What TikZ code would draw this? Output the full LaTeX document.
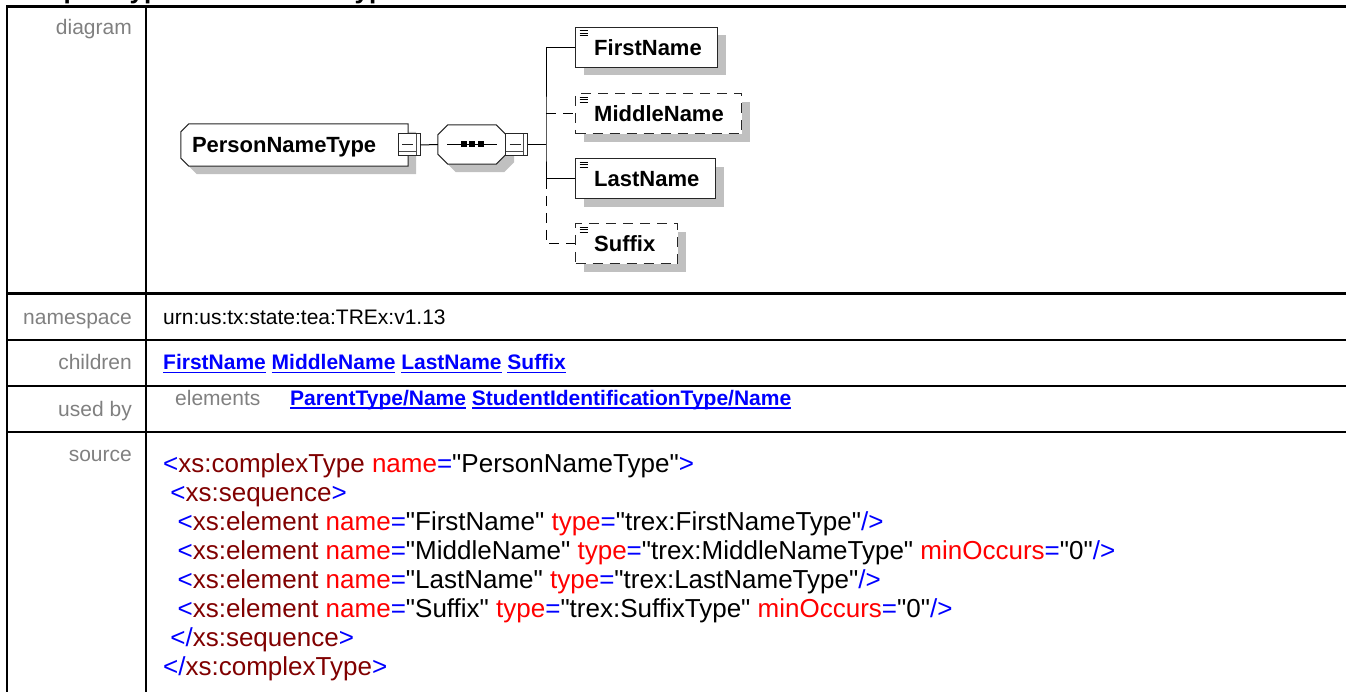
\documentclass[tikz,border=0pt]{standalone}
\usepackage{fontspec}
\setmainfont{Liberation Sans}[Ligatures=TeXOff]
\usetikzlibrary{shadows,backgrounds,positioning}

\definecolor{xmlblue}{RGB}{0,0,255}
\definecolor{xmltag}{RGB}{128,0,0}
\definecolor{xmlattr}{RGB}{255,0,0}
\definecolor{lblgray}{RGB}{128,128,128}
\definecolor{shadowgray}{RGB}{192,192,192}

\newcommand{\xsmark}[1]{\textcolor{xmlblue}{#1}}
\newcommand{\xstag}[1]{\textcolor{xmltag}{#1}}
\newcommand{\xsattr}[1]{\textcolor{xmlattr}{#1}}
\newcommand{\srcind}{\hspace*{7.2pt}}
\newcommand{\doclink}[1]{{\color{xmlblue}\bfseries\setbox0=\hbox{#1}\rlap{\rule[-3.5pt]{\wd0}{1.8pt}}\box0}}

\begin{document}
\begin{tikzpicture}[x=1pt, y=-1pt,
    grid/.style={line width=2.2pt},
    rowlbl/.style={anchor=base east, inner sep=0pt, text=lblgray, font=\fontsize{21}{25}\selectfont},
    cell/.style={anchor=base west, inner sep=0pt, font=\fontsize{21}{25}\selectfont},
    srcline/.style={anchor=base west, inner sep=0pt, font=\fontsize{26}{30}\selectfont},
    boxshadow/.style={drop shadow={shadow xshift=8pt, shadow yshift=-8pt, fill=shadowgray, opacity=1}},
    outline/.style={draw=black!85, fill=white, line width=1pt, boxshadow},
    typebox/.style={rectangle, minimum width=227pt, minimum height=42pt, inner xsep=11pt, text width=205pt, align=left, text height=16pt, text depth=0pt, font=\bfseries\fontsize{22}{26}\selectfont},
    seqbox/.style={rectangle, minimum width=68pt, minimum height=39pt, inner sep=0pt},
    expander/.style={rectangle, draw=black!85, fill=white, line width=1pt, minimum width=22pt, minimum height=22pt, inner sep=0pt,
        path picture={\draw[line width=1pt, black!70] ([xshift=-4pt]path picture bounding box.north east) -- ([xshift=-4pt]path picture bounding box.south east)
                ([yshift=4pt]path picture bounding box.south west) -- ([shift={(-4pt,4pt)}]path picture bounding box.south east);
            \draw[line width=1pt] ([xshift=4pt]path picture bounding box.west) -- ([xshift=-7pt]path picture bounding box.east);}},
    elem/.style={rectangle, draw=black!85, fill=white, line width=1pt, boxshadow, anchor=north west, minimum width=#1, minimum height=40pt, inner sep=0pt,
        path picture={\draw[solid, line width=0.7pt, black]
            ([shift={(4pt,-3pt)}]path picture bounding box.north west) -- ++(8pt,0pt)
            ([shift={(4pt,-5.5pt)}]path picture bounding box.north west) -- ++(8pt,0pt)
            ([shift={(4pt,-8pt)}]path picture bounding box.north west) -- ++(8pt,0pt);}},
    optelem/.style={elem=#1, dash pattern=on 10pt off 7pt},
    eltext/.style={anchor=west, xshift=19pt, inner sep=0pt, text height=16pt, text depth=0pt, font=\bfseries\fontsize{22}{26}\selectfont},
    link/.style={line width=1pt},
    optline/.style={line width=1pt, dash pattern=on 10pt off 7pt}
]
    \useasboundingbox (0,0) rectangle (1346,692);
    \clip (0,0) rectangle (1346,692);

    % Heading (cut off at the top)
    \node[anchor=base west, inner sep=0pt, font=\bfseries\fontsize{26}{30}\selectfont] (title) at (10,-1) {complexType PersonNameType};

    % Table grid
    \draw[grid] (7,5.4) -- (7,700);
    \draw[grid] (146,5.4) -- (146,700);
    \foreach \y in {6.5,293.5,340,386,432}
        \draw[grid] (7,\y) -- (1360,\y);

    % Row labels
    \node[rowlbl] (lbldiagram)  at (132,35)    {diagram};
    \node[rowlbl] (lblns)       at (132,325)   {namespace};
    \node[rowlbl] (lblchildren) at (132,370)   {children};
    \node[rowlbl] (lblusedby)   at (132,416)   {used by};
    \node[rowlbl] (lblsource)   at (132,461.5) {source};

    % Diagram
    \node[typebox]  (root)    at (294.5,145) {PersonNameType};
    \node[seqbox]   (seq)     at (472,144.5) {};
    \begin{scope}[on background layer]
        \draw[outline] ([xshift=8pt]root.north west) -- (root.north east) -- (root.south east)
            -- ([xshift=8pt]root.south west) -- ([yshift=8pt]root.south west) -- ([yshift=-8pt]root.north west) -- cycle;
        \draw[outline] ([xshift=10pt]seq.north west) -- ([xshift=-10pt]seq.north east) -- ([yshift=-10pt]seq.north east)
            -- ([yshift=10pt]seq.south east) -- ([xshift=-10pt]seq.south east) -- ([xshift=10pt]seq.south west)
            -- ([yshift=10pt]seq.south west) -- ([yshift=-10pt]seq.north west) -- cycle;
    \end{scope}
    \draw[link] ([xshift=-25pt]seq.center) -- ([xshift=25pt]seq.center);
    \foreach \dx in {-8.5,0,8.5}
        \fill ([shift={(\dx pt-3pt,-3pt)}]seq.center) rectangle ([shift={(\dx pt+3pt,3pt)}]seq.center);

    \node[expander] (rootexp) at (409,145) {};
    \node[expander] (seqexp)  at (516.5,145) {};
    \coordinate (bus) at (546,145);

    \node[elem=142pt, label={[eltext]west:FirstName}]       (first)  at (575,27) {};
    \node[optelem=166pt, label={[eltext]west:MiddleName}]   (middle) at (575,93.5) {};
    \node[elem=140pt, label={[eltext]west:LastName}]        (last)   at (575,158.5) {};
    \node[optelem=102pt, label={[eltext]west:Suffix}]       (suffix) at (575,223.5) {};

    \draw[link] (rootexp.east) -- (seq.west);
    \draw[link] (seqexp.east) -- (bus);
    \draw[link] (first.west) -| (bus) |- (last.west);
    \draw[optline] (bus |- middle.west) -- (middle.west);
    \draw[optline] (bus |- last.west) |- (suffix.west);

    % Namespace, children, used by
    \node[cell] (nsval) at (163,325) {urn:us:tx:state:tea:TREx:v1.13};
    \node[cell] (childval) at (163,370) {\doclink{FirstName} \doclink{MiddleName} \doclink{LastName} \doclink{Suffix}};
    \node[cell, text=lblgray] (usedkind) at (175,405.5) {elements};
    \node[cell] (usedval) at (290,405.5) {\doclink{ParentType/Name} \doclink{StudentIdentificationType/Name}};

    % Source
    \foreach \src [count=\k] in {
        {\xsmark{<}\xstag{xs:complexType} \xsattr{name}\xsmark{=}"PersonNameType"\xsmark{>}},
        {\srcind\xsmark{<}\xstag{xs:sequence}\xsmark{>}},
        {\srcind\srcind\xsmark{<}\xstag{xs:element} \xsattr{name}\xsmark{=}"FirstName" \xsattr{type}\xsmark{=}"trex:FirstNameType"\xsmark{/>}},
        {\srcind\srcind\xsmark{<}\xstag{xs:element} \xsattr{name}\xsmark{=}"MiddleName" \xsattr{type}\xsmark{=}"trex:MiddleNameType" \xsattr{minOccurs}\xsmark{=}"0"\xsmark{/>}},
        {\srcind\srcind\xsmark{<}\xstag{xs:element} \xsattr{name}\xsmark{=}"LastName" \xsattr{type}\xsmark{=}"trex:LastNameType"\xsmark{/>}},
        {\srcind\srcind\xsmark{<}\xstag{xs:element} \xsattr{name}\xsmark{=}"Suffix" \xsattr{type}\xsmark{=}"trex:SuffixType" \xsattr{minOccurs}\xsmark{=}"0"\xsmark{/>}},
        {\srcind\xsmark{</}\xstag{xs:sequence}\xsmark{>}},
        {\xsmark{</}\xstag{xs:complexType}\xsmark{>}}}
        \node[srcline] (src\k) at (163,472+29.1*\k-29.1) {\src};

\end{tikzpicture}
\end{document}
